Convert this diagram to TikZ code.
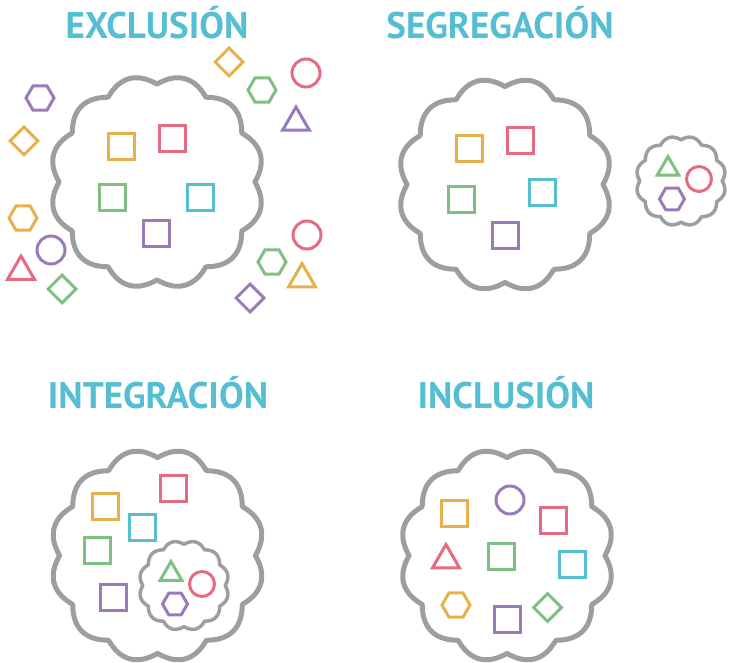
\documentclass[tikz,border=0pt]{standalone}
\usepackage{fontspec}
\setmainfont{PT Sans}
\usetikzlibrary{shapes.geometric}

\definecolor{cOrange}{HTML}{E8B04B}
\definecolor{cPink}{HTML}{E56B80}
\definecolor{cGreen}{HTML}{80BF82}
\definecolor{cBlue}{HTML}{56BED3}
\definecolor{cPurple}{HTML}{9A7BB8}
\definecolor{cGray}{HTML}{9E9E9E}
\definecolor{cTitle}{HTML}{56BED3}

\begin{document}
\begin{tikzpicture}[x=1pt, y=-1pt]
\tikzset{
    title/.style={anchor=base, text=cTitle, font=\bfseries\fontsize{37}{37}\selectfont},
    item/.style={draw, line width=3pt, inner sep=0pt},
    sq/.style={item, rectangle, minimum size=26pt},
    circ/.style={item, circle, minimum size=28pt},
    hexa/.style={item, regular polygon, regular polygon sides=6, minimum size=28pt},
    tri/.style={item, regular polygon, regular polygon sides=3, minimum size=31pt},
    diam/.style={item, diamond, minimum size=29pt},
    smallitem/.style={minimum size=25pt},
    blob/.pic={\draw[draw=cGray, line join=round] plot[domain=0:360, samples=241] (\x:{#1*(0.915+0.085*abs(sin(6*\x)))}) -- cycle;}
}
\useasboundingbox (0,0) rectangle (731,663);

% Titel
\node[title] (tEx) at (157,39) {EXCLUSIÓN};
\node[title] (tSeg) at (500,39) {SEGREGACIÓN};
\node[title] (tInt) at (158,408) {INTEGRACIÓN};
\node[title] (tInc) at (506,408) {INCLUSIÓN};

% Exclusion
\pic[line width=5pt] at (157,182) {blob=107};
\node[sq, draw=cOrange] (Esq1) at (121,147) {};
\node[sq, draw=cPink] (Esq2) at (172,139) {};
\node[sq, draw=cGreen] (Esq3) at (112,198) {};
\node[sq, draw=cBlue] (Esq4) at (200,198) {};
\node[sq, draw=cPurple] (Esq5) at (156,234) {};

\node[hexa, draw=cPurple] (Ehx1) at (40,98) {};
\node[diam, draw=cOrange] (Edm1) at (24,141) {};
\node[hexa, draw=cOrange] (Ehx2) at (23,218) {};
\node[circ, draw=cPurple] (Eci1) at (51,250) {};
\node[tri, draw=cPink] (Etr1) at (21,271.5) {};
\node[diam, draw=cGreen] (Edm2) at (62,289) {};

\node[diam, draw=cOrange] (Edm3) at (229,62) {};
\node[hexa, draw=cGreen] (Ehx3) at (262,90) {};
\node[circ, draw=cPink] (Eci2) at (306,73) {};
\node[tri, draw=cPurple] (Etr2) at (296,122.5) {};
\node[circ, draw=cPink] (Eci3) at (307,235) {};
\node[hexa, draw=cGreen] (Ehx4) at (272,262) {};
\node[tri, draw=cOrange] (Etr3) at (302,279) {};
\node[diam, draw=cPurple] (Edm4) at (250,298) {};

% Segregation
\pic[line width=5pt] at (505,184.5) {blob=107};
\node[sq, draw=cOrange] (Ssq1) at (469,149) {};
\node[sq, draw=cPink] (Ssq2) at (520,141) {};
\node[sq, draw=cGreen] (Ssq3) at (461,200) {};
\node[sq, draw=cBlue] (Ssq4) at (542,193) {};
\node[sq, draw=cPurple] (Ssq5) at (505,236) {};

\pic[line width=3.5pt] at (681,181) {blob=45};
\node[tri, smallitem, draw=cGreen] (Str1) at (668,169) {};
\node[circ, smallitem, draw=cPink] (Sci1) at (699,179) {};
\node[hexa, smallitem, draw=cPurple] (Shx1) at (672,199) {};

% Integration
\pic[line width=5pt] at (157.5,555.5) {blob=107};
\node[sq, draw=cPink] (Isq1) at (173,488) {};
\node[sq, draw=cOrange] (Isq2) at (105,506) {};
\node[sq, draw=cBlue] (Isq3) at (142,527) {};
\node[sq, draw=cGreen] (Isq4) at (97,550) {};
\node[sq, draw=cPurple] (Isq5) at (113,597) {};

\pic[line width=3.5pt] at (184,585.5) {blob=45};
\node[tri, smallitem, draw=cGreen] (Itr1) at (171,574) {};
\node[circ, smallitem, draw=cPink] (Ici1) at (202,584) {};
\node[hexa, smallitem, draw=cPurple] (Ihx1) at (175,604) {};

% Inclusion
\pic[line width=5pt] at (507,555.5) {blob=107};
\node[sq, draw=cOrange] (Csq1) at (454,513) {};
\node[circ, draw=cPurple] (Cci1) at (510,500) {};
\node[sq, draw=cPink] (Csq2) at (553,520) {};
\node[tri, draw=cPink] (Ctr1) at (446,560) {};
\node[sq, draw=cGreen] (Csq3) at (501,556) {};
\node[sq, draw=cBlue] (Csq4) at (572,564) {};
\node[hexa, draw=cOrange] (Chx1) at (456,605) {};
\node[sq, draw=cPurple] (Csq5) at (507,619) {};
\node[diam, draw=cGreen] (Cdm1) at (547.5,607.5) {};
\end{tikzpicture}
\end{document}
